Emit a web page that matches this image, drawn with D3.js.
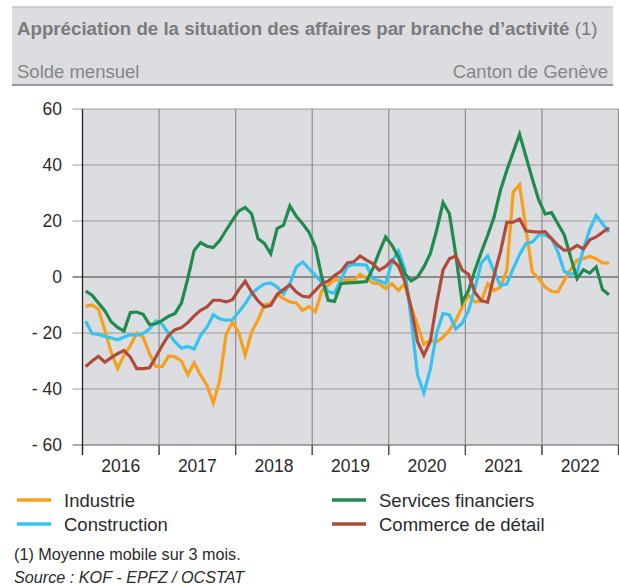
<!DOCTYPE html>
<html>
<head>
<meta charset="utf-8">
<script src="https://cdn.jsdelivr.net/npm/d3@7"></script>
<style>
  body { margin: 0; background: #fff; }
  svg { display: block; font-family: "Liberation Sans", Arial, sans-serif; }
</style>
</head>
<body>
<div id="chart"></div>
<script>
// Monthly values, Jan 2016 - Nov 2022 (3-month moving average)
const years = [2016, 2017, 2018, 2019, 2020, 2021, 2022];
const yTicks = [-60, -40, -20, 0, 20, 40, 60];

const industrie = [
  -10.5, -10, -11.5, -19, -27, -32.7, -28, -24.5, -20, -21.5, -27.4, -32,
  -32, -28.2, -28.5, -30, -35, -30.7, -35, -38.7, -45, -37, -20.5, -16,
  -20, -28, -19.6, -15.5, -10, -9.5, -6.3, -7.7, -8.9, -9.3, -11.9, -10.5,
  -12.5, -5, -3, -1, -1.2, -1, -1.2, 1, -0.6, -2.1, -2.4, -4.2,
  -2.4, -4.8, -2.4, -10.7, -17.3, -24, -22.6, -23.2, -21.5, -19, -15.5, -10.7,
  -6.5, -8.9, -8.5, -2.4, -4.8, -3.6, 2.4, 30.4, 33, 17, 1.8, -0.6,
  -3.6, -5.1, -5.4, -1.2, 2.6, 6, 6.5, 7.4, 6.5, 5, 5
];
const construction = [
  -15.8, -20.2, -20.5, -21.2, -21.8, -22.4, -21.4, -20.6, -20.8, -20.2, -18.5, -15.7,
  -16.9, -20.2, -23.2, -25.4, -24.8, -25.7, -20.8, -17.9, -13.5, -14.9, -15.5, -15.2,
  -12.5, -9.5, -6, -4, -2.5, -2.1, -3.6, -6, -2.4, 3.6, 5.4, 3,
  0.6, -2, -5.2, -5.8, -1, 3.8, 4.5, 4.4, 4.2, -0.6, -1.3, -2.4,
  5.5, 9.3, 3, -15, -35, -41.5, -33, -20, -13, -13.5, -18.5, -16.5,
  -12, -4, 5, 7.5, 2, -3, -2.5, 3, 8, 12, 12.5, 15,
  15, 13.7, 9, 2, 1, 1.5, 10, 17, 22, 19, 16
];
const services = [
  -5, -6.5, -9.3, -12, -16, -18, -19.3, -12.7, -12.5, -13.3, -17, -16.7,
  -15.5, -14, -13, -9.3, -0.6, 9.5, 12.3, 11, 10.5, 13, 16.7, 20.2,
  23.6, 24.8, 22.6, 13.7, 12, 8.3, 17.3, 18.5, 25.4, 21.7, 19, 16,
  10.7, 0, -8.3, -8.7, -2.4, -2.1, -2, -1.8, -1.6, 3, 8.9, 14.3,
  11.3, 7.1, 1.2, -1.4, 0, 3.6, 8.3, 16.7, 26.6, 22.6, 8, -8.9,
  -4.8, 2.4, 8.9, 14.9, 21.4, 31, 38.1, 44.6, 51, 43, 35, 27.5,
  22.5, 23, 19, 15, 7.1, -0.6, 2.6, 1.4, 3.6, -4.5, -6.3
];
const commerce = [
  -32, -30, -28.3, -30.4, -28.8, -27.4, -26.2, -28.6, -32.7, -32.7, -32.4, -28.6,
  -24.4, -20.8, -18.8, -18.1, -16.3, -13.9, -11.9, -10.7, -8.3, -8.3, -8.9, -8.1,
  -4.5, -1.5, -5.4, -8.5, -10.7, -10.1, -6.3, -4.5, -2.8, -5.4, -6.9, -7.2,
  -4.8, -2.4, -1.5, 0.5, 2, 5, 5.4, 7.5, 6, 4.8, 2.4, 3.8,
  6, 4, -1.5, -11, -23, -28, -23, -9.5, 2.5, 6.5, 7.5, 2.5,
  1, -5.5, -8.5, -9, 0.6, 9, 19.5, 19.6, 20.7, 16.5, 16.2, 16,
  16.2, 13.7, 11.3, 9.5, 9.8, 11.3, 10, 13.3, 14.3, 16, 17.6
];

const series = [
  { name: 'Industrie', values: industrie, color: '#f7a01d' },
  { name: 'Construction', values: construction, color: '#36c3f0' },
  { name: 'Services financiers', values: services, color: '#1f8b4f' },
  { name: 'Commerce de détail', values: commerce, color: '#b04b3b' }
];

const W = 619, H = 585;
const plot = { left: 82.5, right: 618.5, top: 109, bottom: 445 };
const nMonths = years.length * 12;

const svg = d3.select('#chart').append('svg')
  .attr('width', W).attr('height', H);

// Header box
svg.append('rect')
  .attr('x', 12).attr('y', 7).attr('width', 601).attr('height', 78)
  .attr('fill', '#dcdde0');
svg.append('line')
  .attr('x1', 12).attr('x2', 613).attr('y1', 7).attr('y2', 7)
  .attr('stroke', '#c4c5c8').attr('stroke-width', 1.5);
svg.append('line')
  .attr('x1', 12).attr('x2', 613).attr('y1', 85).attr('y2', 85)
  .attr('stroke', '#7d7d7d').attr('stroke-width', 1.5);

const title = svg.append('text')
  .attr('x', 17).attr('y', 35)
  .attr('font-size', '18.7px').attr('fill', '#7b7b7d');
title.append('tspan').attr('font-weight', 'bold')
  .text('Appréciation de la situation des affaires par branche d’activité');
title.append('tspan').text(' (1)');

svg.append('text')
  .attr('x', 17).attr('y', 78)
  .attr('font-size', '18.5px').attr('fill', '#858587')
  .text('Solde mensuel');
svg.append('text')
  .attr('x', 608).attr('y', 78).attr('text-anchor', 'end')
  .attr('font-size', '18.5px').attr('fill', '#858587')
  .text('Canton de Genève');

// Scales
const x = d3.scaleLinear().domain([0, nMonths]).range([plot.left, plot.right]);
const y = d3.scaleLinear().domain([-60, 60]).range([plot.bottom, plot.top]);

// Plot background
svg.append('rect')
  .attr('x', plot.left).attr('y', plot.top)
  .attr('width', plot.right - plot.left).attr('height', plot.bottom - plot.top)
  .attr('fill', '#dcdde0');

// Horizontal grid
svg.append('g').selectAll('line')
  .data(yTicks)
  .join('line')
  .attr('x1', plot.left - 10).attr('x2', plot.right)
  .attr('y1', d => y(d)).attr('y2', d => y(d))
  .attr('stroke', d => d === 0 ? '#6f6f6f' : (d === -60 ? '#555' : '#9c9c9c'))
  .attr('stroke-width', d => d === 0 ? 1.6 : 1.2);

// Vertical year boundaries
const bounds = d3.range(1, years.length + 1).map(k => k * 12);
svg.append('g').selectAll('line')
  .data(bounds)
  .join('line')
  .attr('x1', d => x(d)).attr('x2', d => x(d))
  .attr('y1', plot.top).attr('y2', plot.bottom + 10)
  .attr('stroke', '#8e8e8e').attr('stroke-width', 1.2);
svg.append('g').selectAll('line')
  .data([0].concat(bounds))
  .join('line')
  .attr('x1', d => x(d)).attr('x2', d => x(d))
  .attr('y1', plot.bottom).attr('y2', plot.bottom + 10)
  .attr('stroke', '#444').attr('stroke-width', 1.2);

// Left axis line
svg.append('line')
  .attr('x1', plot.left).attr('x2', plot.left)
  .attr('y1', plot.top).attr('y2', plot.bottom + 10)
  .attr('stroke', '#222').attr('stroke-width', 1.3);

// Y labels
svg.append('g').selectAll('text')
  .data(yTicks)
  .join('text')
  .attr('x', 62).attr('y', d => y(d) + 6)
  .attr('text-anchor', 'end')
  .attr('font-size', '17.5px').attr('fill', '#2b2b2b')
  .text(d => d < 0 ? '- ' + Math.abs(d) : d);

// X labels
svg.append('g').selectAll('text')
  .data(years)
  .join('text')
  .attr('x', (d, i) => x(i * 12 + 6)).attr('y', 472)
  .attr('text-anchor', 'middle')
  .attr('font-size', '17.5px').attr('fill', '#2b2b2b')
  .text(d => d);

// Lines
const line = d3.line()
  .x((d, i) => x(i + 0.5))
  .y(d => y(d));

svg.append('g').selectAll('path')
  .data(series)
  .join('path')
  .attr('d', d => line(d.values))
  .attr('fill', 'none')
  .attr('stroke', d => d.color)
  .attr('stroke-width', 3.2)
  .attr('stroke-linejoin', 'miter');

// Legend
const legendPos = [
  { x: 17, y: 500 }, { x: 17, y: 524 },
  { x: 332, y: 500 }, { x: 332, y: 524 }
];
const lg = svg.append('g').selectAll('g')
  .data(series)
  .join('g')
  .attr('transform', (d, i) => `translate(${legendPos[i].x}, ${legendPos[i].y})`);
lg.append('line')
  .attr('x1', 0).attr('x2', 34).attr('y1', 0).attr('y2', 0)
  .attr('stroke', d => d.color).attr('stroke-width', 3.5);
lg.append('text')
  .attr('x', 47).attr('y', 6.5)
  .attr('font-size', '18.5px').attr('fill', '#2b2b2b')
  .text(d => d.name);

// Notes
svg.append('text')
  .attr('x', 14).attr('y', 560)
  .attr('font-size', '16.2px').attr('fill', '#2b2b2b')
  .text('(1) Moyenne mobile sur 3 mois.');
svg.append('text')
  .attr('x', 14).attr('y', 583)
  .attr('font-size', '16.2px').attr('font-style', 'italic').attr('fill', '#2b2b2b')
  .text('Source : KOF - EPFZ / OCSTAT');
</script>
</body>
</html>
